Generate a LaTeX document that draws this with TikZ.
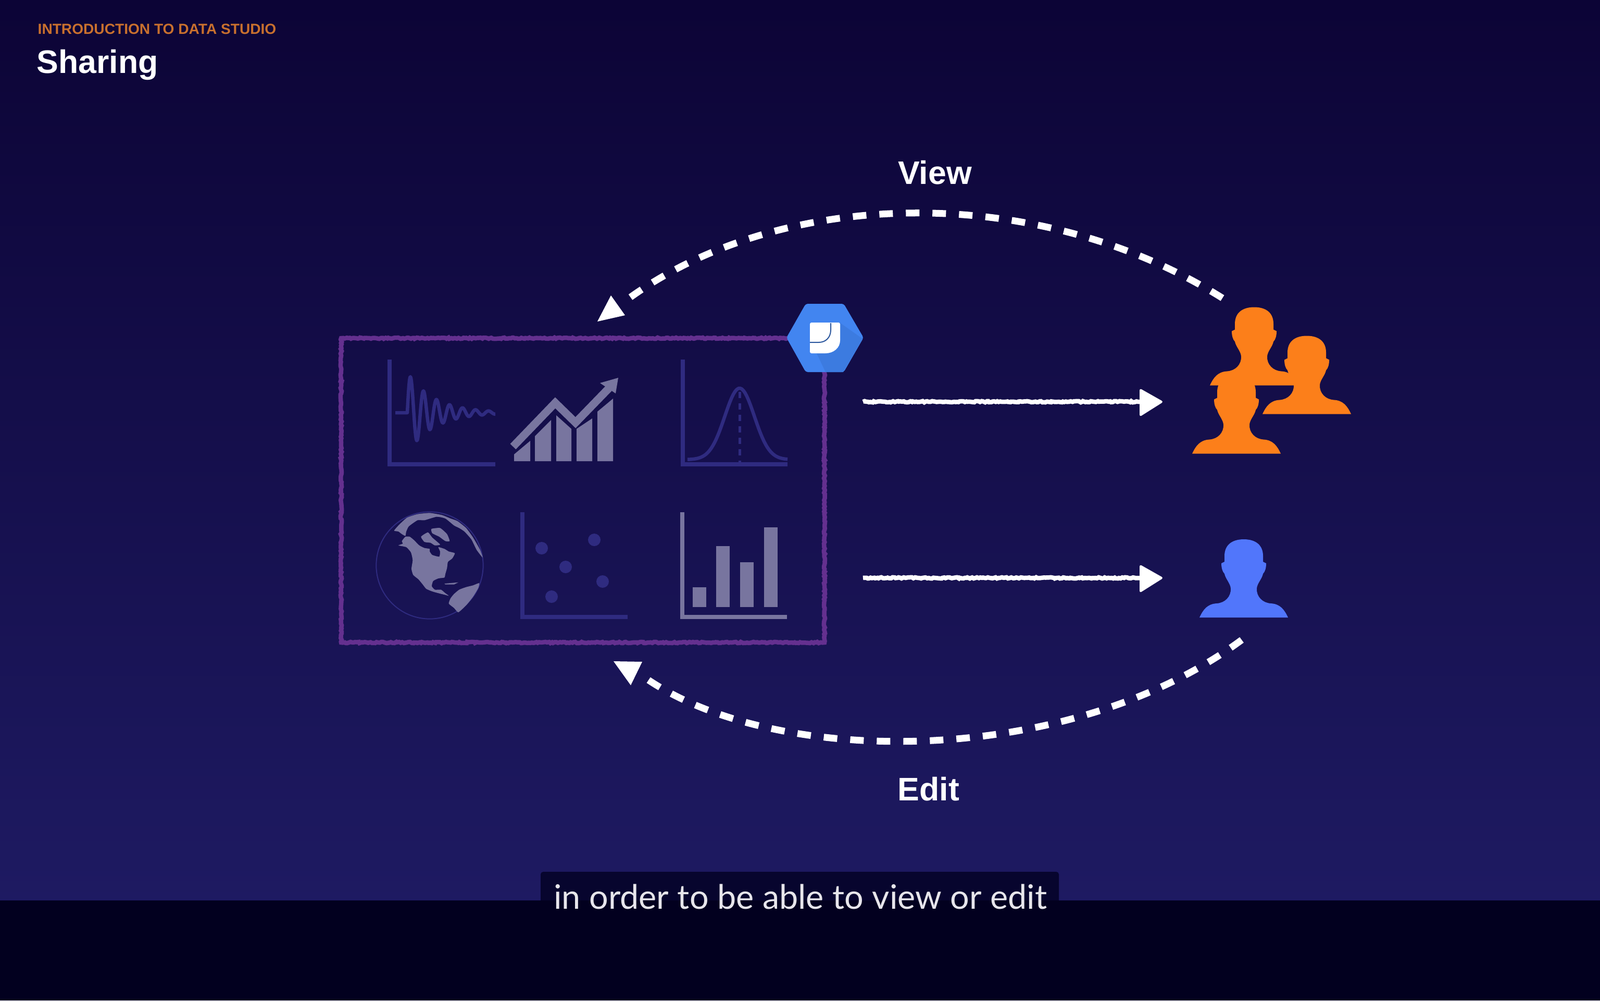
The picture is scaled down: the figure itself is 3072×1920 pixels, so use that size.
\documentclass[tikz,border=0pt]{standalone}
\usepackage{fontspec}
\setmainfont{Liberation Sans}
\newfontfamily\capfont{Lato}
\usetikzlibrary{decorations.pathmorphing}
\definecolor{bgtop}{HTML}{0C0436}
\definecolor{bgbot}{HTML}{1E1A62}
\definecolor{band}{HTML}{02001F}
\definecolor{capbox}{HTML}{07052E}
\definecolor{dimline}{HTML}{2F2B80}
\definecolor{lightbar}{HTML}{78759F}
\definecolor{board}{HTML}{64308F}
\definecolor{hexblue}{HTML}{4285F0}
\definecolor{hexshade}{HTML}{3C7BE0}
\definecolor{usrorange}{HTML}{FC7F1A}
\definecolor{usrblue}{HTML}{5176FB}
\definecolor{titleorange}{HTML}{C8702E}
\tikzset{
 dimaxis/.style = {draw = dimline, line width = 0.85mm},
 lightaxis/.style = {draw = lightbar, line width = 0.85mm},
 dimcurve/.style = {draw = dimline, line width = 0.65mm, line join = round},
 roughline/.style = {decorate, decoration = {random steps, segment length = 0.3mm, amplitude = 0.12mm}},
 sharearrow/.style = {draw = white, line width = 0.85mm, roughline},
 sharehead/.style = {fill = white, rounded corners = 0.4mm},
 dashedarc/.style = {draw = white, line width = 1.3mm, dash pattern = on 2.6mm off 2.5mm},
 arclabel/.style = {white, font = \fontsize{17.8pt}{20pt}\selectfont\bfseries},
 person/.pic = {
  \fill[pic actions] (0,-150)
   .. controls (24,-150) and (37,-138) .. (37,-118) -- (37,-107) -- (43,-104)
   .. controls (43,-95) and (41,-88) .. (37,-84)
   .. controls (35,-74) and (26,-66) .. (25,-56)
   .. controls (24,-40) and (36,-28) .. (52,-27)
   .. controls (70,-26) and (78,-15) .. (85,0) -- (-85,0)
   .. controls (-78,-15) and (-70,-26) .. (-52,-27)
   .. controls (-36,-28) and (-24,-40) .. (-25,-56)
   .. controls (-26,-66) and (-35,-74) .. (-37,-84)
   .. controls (-41,-88) and (-43,-95) .. (-43,-104) -- (-37,-107) -- (-37,-118)
   .. controls (-37,-138) and (-24,-150) .. (0,-150) -- cycle;
 }
}
\begin{document}
\begin{tikzpicture}[x = 0.1mm, y = -0.1mm]
 \useasboundingbox (0,0) rectangle (3072,1920);
 \shade[top color = bgtop, bottom color = bgbot] (0,0) rectangle (3072,1730);
 \fill[capbox, rounded corners = 0.5mm] (1038,1673) rectangle (2033,1750);
 \fill[band] (0,1728) rectangle (3072,1920);

 \node[anchor = base west, inner sep = 0, titleorange, font = \fontsize{8pt}{9pt}\selectfont\bfseries] (course) at (72,65) {INTRODUCTION TO DATA STUDIO};
 \node[anchor = base west, inner sep = 0, white, font = \fontsize{17.8pt}{20pt}\selectfont\bfseries] (topic) at (70,140) {Sharing};
 \node[anchor = base, inner sep = 0, text = white!90!bgtop, font = \capfont\fontsize{18.4pt}{20pt}\selectfont] (caption) at (1537,1744) {in order to be able to view or edit};

 % board
 \draw[board, line width = 0.85mm, roughline] (655,649) coordinate (NW) rectangle (1583,1233) coordinate (SE);

 % damped wave
 \draw[dimaxis] (748,690) -- (748,891) -- (951,891);
 \draw[dimcurve] (759,792) -- (782,792)
  -- plot[domain = 0:169, samples = 170] ({782+\x},{792-78*exp(-\x/50)*sin(14.4*\x)});

 % trend
 \foreach \xa/\xb/\ya/\yb in {987/1018/872/846, 1027/1058/837/806, 1068/1097/797/823, 1107/1137/823/803, 1147/1177/790/765}
  \fill[lightbar] (\xa,885) -- (\xa,\ya) -- (\xb,\yb) -- (\xb,885) -- cycle;
 \draw[lightbar, line width = 1.5mm, line join = miter] (985,857) -- (1066,773) -- (1105,811) -- (1172,742);
 \fill[lightbar] (1187,725) -- (1152,735) -- (1182,755) -- cycle;

 % bell curve
 \draw[dimaxis] (1311,690) -- (1311,891) -- (1512,891);
 \draw[dimcurve] plot[domain = 1320:1512, samples = 60] (\x,{882-137*exp(-((\x-1420)^2)/1613)});
 \draw[dimline, line width = 0.5mm, dash pattern = on 1.2mm off 1mm] (1420,752) -- (1420,890);

 % globe
 \begin{scope}[shift = {(715,975)}, scale = 0.3333]
  \draw[dimline, line width = 0.2mm] (330,330) circle (308);
  \fill[lightbar] plot[smooth cycle, tension = 0.3] coordinates {(150,215) (175,205) (170,190) (190,165) (215,165) (240,185) (270,215) (300,230) (330,235) (330,250) (345,270) (385,280) (390,250) (380,225) (415,235) (440,250) (475,260) (460,290) (435,310) (430,345) (420,380) (415,400) (380,405) (350,420) (342,450) (360,470) (395,470) (420,490) (440,505) (420,500) (380,490) (345,480) (310,465) (290,440) (265,410) (235,385) (225,350) (232,300) (222,255) (195,225)};
  \fill[lightbar] plot[smooth cycle, tension = 0.3] coordinates {(125,130) (155,95) (200,55) (260,35) (330,28) (400,40) (450,60) (490,75) (540,115) (580,170) (620,240) (635,285) (600,240) (570,180) (530,135) (500,115) (470,100) (420,60) (370,50) (300,70) (260,70) (210,105) (195,135) (190,160) (170,150) (150,135)};
  \fill[lightbar] plot[smooth cycle, tension = 0.3] coordinates {(340,120) (390,115) (430,150) (445,190) (420,190) (385,165) (345,145)};
  \fill[lightbar] plot[smooth cycle, tension = 0.3] coordinates {(280,165) (320,140) (345,170) (390,210) (360,215) (335,200) (300,195)};
  \fill[lightbar] plot[smooth cycle, tension = 0.3] coordinates {(615,432) (580,445) (540,455) (500,470) (470,495) (450,520) (440,550) (470,575) (495,600) (540,560) (580,510) (610,460)};
  \fill[lightbar] (415,435) -- (495,428) -- (470,440) -- (420,440) -- cycle;
 \end{scope}

 % scatter
 \draw[dimaxis] (1003,983) -- (1003,1184) -- (1205,1184);
 \foreach \xa/\ya in {1040/1052, 1141/1036, 1086/1088, 1157/1116, 1059/1145}
  \fill[dimline] (\xa,\ya) circle (12);

 % bars
 \draw[lightaxis] (1310,983) -- (1310,1184) -- (1511,1184);
 \foreach \xa/\ya in {1330/1127, 1375/1048, 1421/1079, 1467/1012}
  \fill[lightbar] (\xa,1165) rectangle ({\xa+26},\ya);

 % hexagon badge
 \fill[hexblue, rounded corners = 0.4mm] (1510,648) coordinate (hexW) -- (1547,583) -- (1620,583) -- (1658,648) coordinate (hexE) -- (1620,714) -- (1547,714) -- cycle;
 \fill[hexshade] (1612,619) -- (1656,650) -- (1619,714) -- (1585,714) -- (1568,678) -- cycle;
 \fill[white, rounded corners = 0.3mm] (1555,619) -- (1613,619) -- (1613,650) {[sharp corners] .. controls (1613,668) and (1600,678) .. (1585,678)} -- (1555,678) -- cycle;
 \draw[hexshade!70!black, line width = 0.2mm] (1595,620) -- (1595,633) .. controls (1595,648) and (1585,657) .. (1572,657) -- (1555,657);

 % people
 \pic[fill = usrorange] at (2408,739.5) {person};
 \pic[fill = usrorange] at (2509,794.5) {person};
 \pic[fill = usrorange] at (2374,870.5) {person};
 \pic[fill = usrblue] at (2388,1185) {person};

 % solid arrows
 \coordinate (shareA) at (1657,771);
 \coordinate (shareB) at (2190,771);
 \coordinate (shareC) at (1657,1109);
 \coordinate (shareD) at (2190,1109);
 \draw[sharearrow] (shareA) -- (shareB);
 \draw[sharearrow] (shareC) -- (shareD);
 \fill[sharehead] (2188,745) -- (2234,771) -- (2188,800) -- cycle;
 \fill[sharehead] (2188,1083) -- (2234,1109) -- (2188,1138) -- cycle;

 % dashed arcs
 \coordinate (viewA) at (2347,572);
 \coordinate (viewB) at (1192,584);
 \coordinate (editA) at (2384,1228);
 \coordinate (editB) at (1232,1296);
 \draw[dashedarc] (viewA) .. controls (1985,345) and (1485,360) .. (viewB);
 \draw[dashedarc] (editA) .. controls (2050,1475) and (1480,1475) .. (editB);
 \fill[white] (1173,567) -- (1147,617) -- (1200,605) -- cycle;
 \fill[white] (1178,1269) -- (1233,1270) -- (1211,1315) -- cycle;

 \node[arclabel, anchor = base] (view) at (1795,353) {View};
 \node[arclabel, anchor = base] (edit) at (1783,1536) {Edit};
\end{tikzpicture}
\end{document}
